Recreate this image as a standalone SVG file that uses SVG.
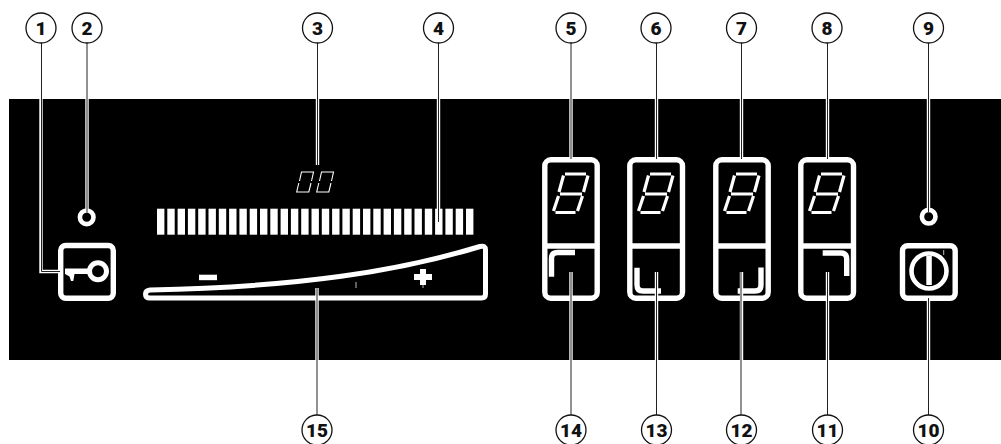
<svg xmlns="http://www.w3.org/2000/svg" width="1001" height="444" viewBox="0 0 1001 444">
<style>
.btn{fill:none;stroke:#fff;stroke-width:5.400;stroke-linejoin:round}
.w{fill:#fff}
.halo{fill:none;stroke:#fff;stroke-width:3.400}
.lead{fill:none;stroke:#222;stroke-width:1}
.seg{stroke:#fff;stroke-width:3.200;fill:none}
.seg2{stroke:#fff;stroke-width:1.100;fill:none}
.cc{fill:#fff;stroke:#111;stroke-width:1.300}
.num{font-family:Roboto,"Liberation Sans",sans-serif;font-weight:900;font-size:19px;fill:#111;text-anchor:middle}
.tick{stroke:#bbb;stroke-width:1;fill:none}
</style>
<defs>
<g id="d8" class="seg">
<path d="M565,174H586M588,175.500L583.500,192M563.500,175.500L559,192M560,194H582M582.500,196L577.500,211M558.500,196L553.500,211M555.500,212.500H575.500"/>
</g>
<g id="d0" class="seg2">
<path d="M299.500,181L301.500,172H313.500L311.500,181M298.800,183L296.700,192H308.800L311,183"/>
</g>
</defs>
<rect id="panel" x="9" y="99" width="992" height="261" fill="#000"/>
<g id="key-button">
<rect class="btn" x="60.700" y="245.500" width="52.600" height="52.700" rx="5"/>
<circle cx="98" cy="271.300" r="8.500" fill="none" stroke="#fff" stroke-width="5"/>
<path class="w" d="M65,268.500H91V274H74.500L73.300,281H71L69.500,276.500L65,274Z"/>
</g>
<g id="led-left"><circle cx="86.700" cy="217.300" r="6.800" fill="none" stroke="#fff" stroke-width="4.600"/></g>
<g id="timer">
<use href="#d0"/>
<use href="#d0" x="20"/>
</g>
<g id="bargraph" class="w">
<rect x="157" y="208.700" width="7.400" height="26"/><rect x="167.300" y="208.700" width="7.400" height="26"/><rect x="177.600" y="208.700" width="7.400" height="26"/><rect x="187.900" y="208.700" width="7.400" height="26"/><rect x="198.200" y="208.700" width="7.400" height="26"/><rect x="208.500" y="208.700" width="7.400" height="26"/><rect x="218.800" y="208.700" width="7.400" height="26"/><rect x="229.100" y="208.700" width="7.400" height="26"/><rect x="239.400" y="208.700" width="7.400" height="26"/><rect x="249.700" y="208.700" width="7.400" height="26"/><rect x="260" y="208.700" width="7.400" height="26"/><rect x="270.300" y="208.700" width="7.400" height="26"/><rect x="280.600" y="208.700" width="7.400" height="26"/><rect x="290.900" y="208.700" width="7.400" height="26"/><rect x="301.200" y="208.700" width="7.400" height="26"/><rect x="311.500" y="208.700" width="7.400" height="26"/><rect x="321.800" y="208.700" width="7.400" height="26"/><rect x="332.100" y="208.700" width="7.400" height="26"/><rect x="342.400" y="208.700" width="7.400" height="26"/><rect x="352.700" y="208.700" width="7.400" height="26"/><rect x="363" y="208.700" width="7.400" height="26"/><rect x="373.300" y="208.700" width="7.400" height="26"/><rect x="383.600" y="208.700" width="7.400" height="26"/><rect x="393.900" y="208.700" width="7.400" height="26"/><rect x="404.200" y="208.700" width="7.400" height="26"/><rect x="414.500" y="208.700" width="7.400" height="26"/><rect x="424.800" y="208.700" width="7.400" height="26"/><rect x="435.100" y="208.700" width="7.400" height="26"/><rect x="445.400" y="208.700" width="7.400" height="26"/><rect x="455.700" y="208.700" width="7.400" height="26"/><rect x="466" y="208.700" width="7.400" height="26"/>
</g>
<g id="slider">
<path d="M480,246.500C400,271 300,287 150,290Q145.500,290.500 145.500,294.200Q145.500,298 150,298H481.500Q485.500,298 485.500,294V250Q485.500,245 480,246.500Z" fill="none" stroke="#fff" stroke-width="5" stroke-linejoin="round"/>
<rect class="w" x="199" y="274.700" width="18" height="5.500"/>
<path class="w" d="M420,269H426V274H432V280H426V285H420V280H414V274H420Z"/>
<path class="tick" d="M423,285V288M356,282V288"/>
</g>
<g id="zone-1">
<rect class="btn" x="544.800" y="159.800" width="52.400" height="138.400" rx="6"/>
<path class="btn" d="M544.800,246H597.200"/>
<use href="#d8"/>
<path class="btn" d="M551.500,276.700V258.500Q551.500,252.500 557.500,252.500H575"/>
</g>
<g id="zone-2">
<rect class="btn" x="629.800" y="159.800" width="52.700" height="138.400" rx="6"/>
<path class="btn" d="M629.800,246H682.500"/>
<use href="#d8" x="85"/>
<path class="btn" d="M637,267.700V285Q637,291 643,291H661"/>
</g>
<g id="zone-3">
<rect class="btn" x="715.800" y="159.800" width="52.400" height="138.400" rx="6"/>
<path class="btn" d="M715.800,246H768.200"/>
<use href="#d8" x="171"/>
<path class="btn" d="M761,267.500V285Q761,291 755,291H737.700"/>
</g>
<g id="zone-4">
<rect class="btn" x="800.800" y="159.800" width="52.700" height="138.400" rx="6"/>
<path class="btn" d="M800.800,246H853.500"/>
<use href="#d8" x="256"/>
<path class="btn" d="M822.700,253H840.700Q846.700,253 846.700,259V276"/>
</g>
<g id="led-right"><circle cx="928.700" cy="216.700" r="6.800" fill="none" stroke="#fff" stroke-width="4.600"/></g>
<g id="power-button">
<rect class="btn" x="902.500" y="245.800" width="52.700" height="52.400" rx="5"/>
<circle cx="929" cy="271" r="17.500" fill="none" stroke="#fff" stroke-width="4.600"/>
<rect class="w" x="926.300" y="256" width="5.500" height="29"/>
<path class="tick" d="M943.700,250V255"/>
</g>
<g id="connectors">
<path class="halo" d="M41,99V271.500H60M87,99V213M317.500,99V165M438.500,99V222M571,99V159M656.500,99V159M741.500,99V159M827.500,99V159M928.500,99V212M571,360V272M656.500,360V272M741.500,360V272M827.500,360V272M928.500,360V298M317,360V288"/>
<path class="lead" d="M41.500,43V271.500H60M87,43V213M317.500,43V165M438.500,43V222M571,43V159M656.500,43V159M741.500,43V159M827.500,43V159M928.500,43V212M571,415V272M656.500,415V272M741,415V272M827.500,415V272M928.500,415V298M317,415V288"/>
</g>
<g id="c1"><circle class="cc" cx="41" cy="28" r="15"/><text class="num" x="41" y="34.800">1</text></g>
<g id="c2"><circle class="cc" cx="87" cy="28" r="15"/><text class="num" x="87" y="34.800">2</text></g>
<g id="c3"><circle class="cc" cx="317.500" cy="28" r="15"/><text class="num" x="317.500" y="34.800">3</text></g>
<g id="c4"><circle class="cc" cx="438.500" cy="28" r="15"/><text class="num" x="438.500" y="34.800">4</text></g>
<g id="c5"><circle class="cc" cx="571" cy="28" r="15"/><text class="num" x="571" y="34.800">5</text></g>
<g id="c6"><circle class="cc" cx="656" cy="28" r="15"/><text class="num" x="656" y="34.800">6</text></g>
<g id="c7"><circle class="cc" cx="741.500" cy="28" r="15"/><text class="num" x="741.500" y="34.800">7</text></g>
<g id="c8"><circle class="cc" cx="827" cy="28" r="15"/><text class="num" x="827" y="34.800">8</text></g>
<g id="c9"><circle class="cc" cx="928.500" cy="28" r="15"/><text class="num" x="928.500" y="34.800">9</text></g>
<g id="c10"><circle class="cc" cx="928.500" cy="430" r="15"/><text class="num" x="928.500" y="436.800">10</text></g>
<g id="c11"><circle class="cc" cx="827.500" cy="430" r="15"/><text class="num" x="827.500" y="436.800">11</text></g>
<g id="c12"><circle class="cc" cx="741.500" cy="430" r="15"/><text class="num" x="741.500" y="436.800">12</text></g>
<g id="c13"><circle class="cc" cx="656.500" cy="430" r="15"/><text class="num" x="656.500" y="436.800">13</text></g>
<g id="c14"><circle class="cc" cx="571" cy="430" r="15"/><text class="num" x="571" y="436.800">14</text></g>
<g id="c15"><circle class="cc" cx="317" cy="430" r="15"/><text class="num" x="317" y="436.800">15</text></g>
</svg>
